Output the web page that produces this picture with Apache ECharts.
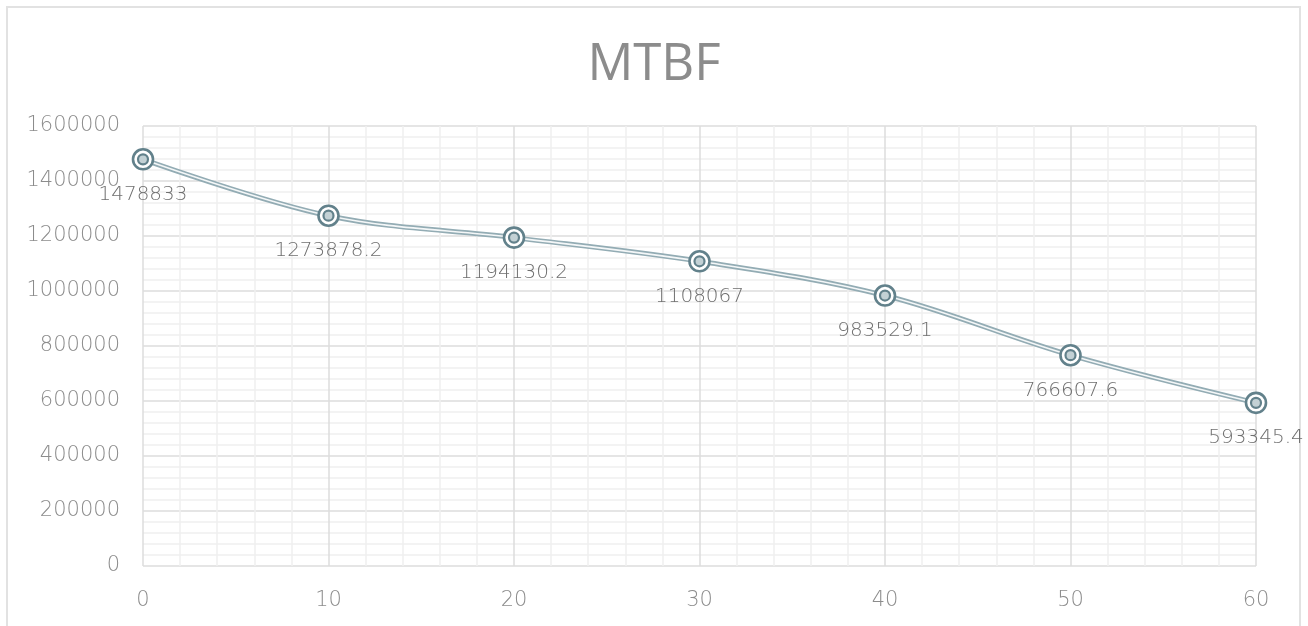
<!DOCTYPE html>
<html>
<head>
<meta charset="utf-8">
<title>MTBF</title>
<script src="https://cdn.jsdelivr.net/npm/echarts@6/dist/echarts.min.js"></script>
<style>
  html, body { margin: 0; padding: 0; background: #ffffff; }
  #chart { width: 1308px; height: 626px; }
</style>
</head>
<body>
<div id="chart"></div>
<script>
// Operating hours (x) and mean time between failures (y)
const hours = [0, 10, 20, 30, 40, 50, 60];
const mtbf = [1478833, 1273878.2, 1194130.2, 1108067, 983529.1, 766607.6, 593345.4];
const chartTitle = 'MTBF';

const points = hours.map((h, i) => [h, mtbf[i]]);

const FONT = '"DejaVu Sans", "Open Sans", sans-serif';
const TITLE_FONT = '"Open Sans", "DejaVu Sans", sans-serif';
const ring = '#62818b';
const lineEdge = '#93acb4';

const chart = echarts.init(document.getElementById('chart'), null, { renderer: 'canvas' });

chart.setOption({
  animation: false,
  backgroundColor: '#ffffff',
  graphic: [
    {
      type: 'rect',
      shape: { x: 7, y: 7, width: 1293, height: 650 },
      style: { fill: 'none', stroke: '#e2e2e2', lineWidth: 2 },
      silent: true
    },
    {
      type: 'text',
      x: 654, y: 65,
      style: {
        text: chartTitle,
        fill: '#8c8c8c',
        font: '400 51px ' + TITLE_FONT,
        textAlign: 'center',
        textVerticalAlign: 'middle'
      },
      silent: true
    }
  ],
  grid: { left: 143, right: 52, top: 126, bottom: 60, containLabel: false },
  xAxis: {
    type: 'value',
    min: 0, max: 60, interval: 10,
    axisLine: { show: false },
    axisTick: { show: false },
    axisLabel: { color: '#8c8c8c', fontSize: 21, fontFamily: FONT, fontWeight: 200, margin: 24 },
    splitLine: { show: true, lineStyle: { color: '#dcdcdc', width: 1.5 } },
    minorTick: { show: false, splitNumber: 5 },
    minorSplitLine: { show: true, lineStyle: { color: '#efefef', width: 1.5 } }
  },
  yAxis: {
    type: 'value',
    min: 0, max: 1600000, interval: 200000,
    axisLine: { show: false },
    axisTick: { show: false },
    axisLabel: {
      color: '#8c8c8c', fontSize: 21, fontFamily: FONT, fontWeight: 200, margin: 23,
      formatter: v => String(v)
    },
    splitLine: { show: true, lineStyle: { color: '#dcdcdc', width: 1.5 } },
    minorTick: { show: false, splitNumber: 5 },
    minorSplitLine: { show: true, lineStyle: { color: '#efefef', width: 1.5 } }
  },
  series: [
    {
      // outer edge of the double line
      type: 'line',
      data: points,
      smooth: 0.35,
      symbol: 'none',
      lineStyle: { color: lineEdge, width: 5 },
      z: 2
    },
    {
      // light core of the double line
      type: 'line',
      data: points,
      smooth: 0.35,
      symbol: 'none',
      lineStyle: { color: '#f4f7f8', width: 1.6 },
      z: 3
    },
    {
      // outer ring of each marker, carries the value label
      type: 'scatter',
      data: points,
      symbol: 'circle',
      symbolSize: 20,
      itemStyle: { color: '#ffffff', borderColor: ring, borderWidth: 2.6, opacity: 1 },
      label: {
        show: true,
        position: 'bottom',
        distance: 14,
        color: '#6f6f6f',
        fontSize: 20,
        fontFamily: FONT,
        fontWeight: 200,
        formatter: p => String(p.value[1])
      },
      z: 4
    },
    {
      // inner ring of each marker
      type: 'scatter',
      data: points,
      symbol: 'circle',
      symbolSize: 10,
      itemStyle: { color: '#c3d1d5', borderColor: ring, borderWidth: 2.2, opacity: 1 },
      z: 5
    }
  ]
});
</script>
</body>
</html>
